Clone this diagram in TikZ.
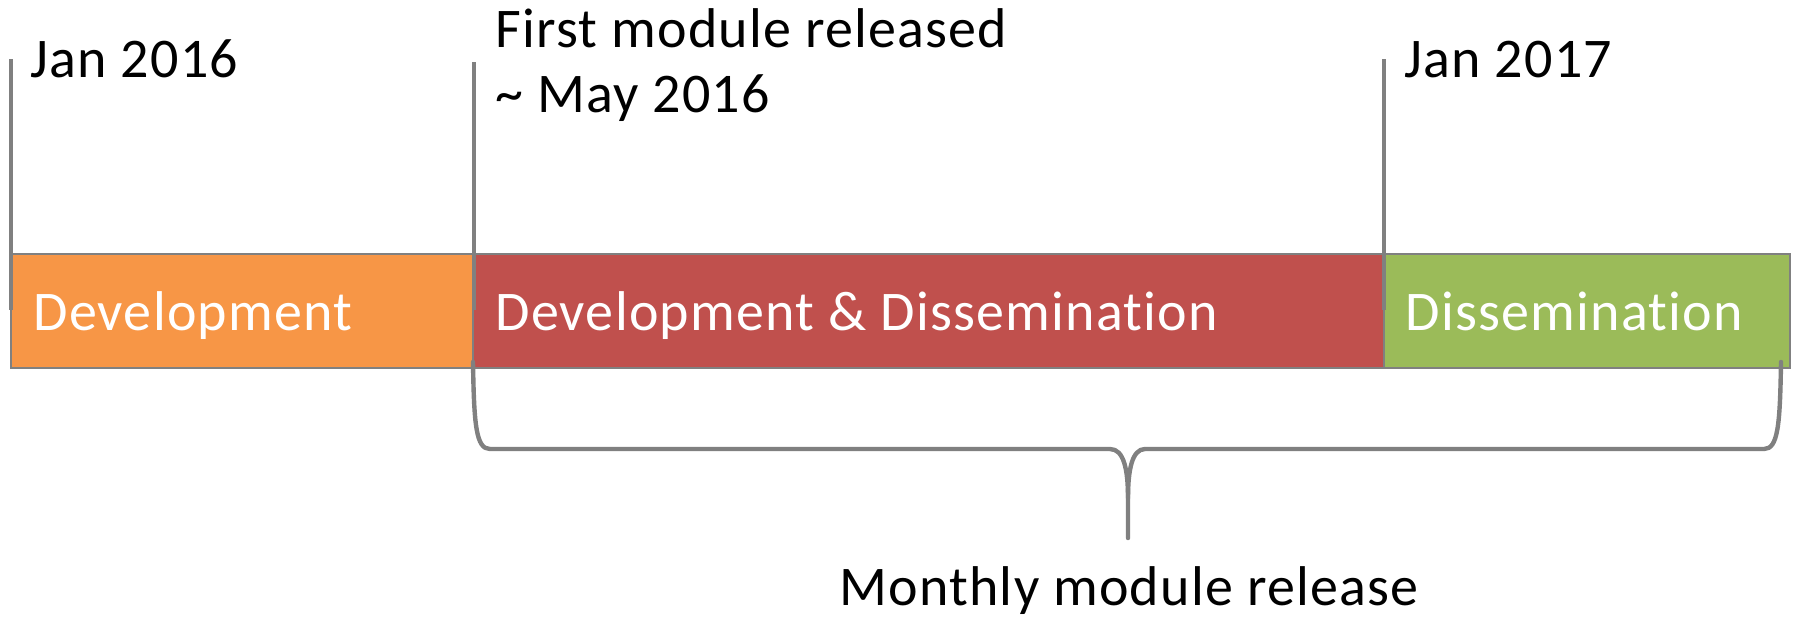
\documentclass[tikz,border=0pt]{standalone}
\usepackage{fontspec}
\setmainfont{Carlito}[Ligatures=NoCommon, LetterSpace=2.2]
\usepackage{tikz}
\usetikzlibrary{positioning}
\definecolor{devorange}{HTML}{F79646}
\definecolor{bothred}{HTML}{C0504D}
\definecolor{dissgreen}{HTML}{9BBB59}
\definecolor{linegray}{HTML}{808080}
\tikzset{phase/.style={draw=linegray, line width=1pt}}
\tikzset{markline/.style={draw=linegray, line width=2.2pt}}
\tikzset{bracepath/.style={draw=linegray, line width=2.2pt, line cap=round, line join=round}}
\tikzset{lbl/.style={inner sep=0pt, anchor=base west, font=\fontsize{28}{32.5}\selectfont}}
\tikzset{barlbl/.style={lbl, text=white}}

\begin{document}
\begin{tikzpicture}[x=0.5pt, y=-0.5pt]
            \useasboundingbox (0, 0) rectangle (1793, 618);
            % phases
            \draw[phase, fill=devorange] (11, 254) coordinate (devNW) rectangle (473, 368) coordinate (devSE);
            \draw[phase, fill=bothred] (473, 254) coordinate (bothNW) rectangle (1384, 368) coordinate (bothSE);
            \draw[phase, fill=dissgreen] (1384, 254) coordinate (dissNW) rectangle (1790, 368) coordinate (dissSE);
            % milestones
            \draw[markline] (11, 59) coordinate (jan16top) -- (11, 310) coordinate (jan16bot);
            \draw[markline] (474, 62) coordinate (firsttop) -- (474, 310) coordinate (firstbot);
            \draw[markline] (1384, 59) coordinate (jan17top) -- (1384, 310) coordinate (jan17bot);
            \node[lbl] (jan16) at (30, 77) {Jan 2016};
            \node[lbl] (first) at (495, 47) {First module released};
            \node[lbl] (may16) at (495, 112) {\textasciitilde{} May 2016};
            \node[lbl] (jan17) at (1404, 77) {Jan 2017};
            \node[barlbl] (dev) at (33, 330) {Development};
            \node[barlbl] (both) at (495, 330) {Development \& Dissemination};
            \node[barlbl] (diss) at (1405, 330) {Dissemination};
            % brace
            \coordinate (braceL) at (473, 362);
            \coordinate (braceR) at (1781, 362);
            \coordinate (braceTip) at (1128, 538);
            \draw[bracepath] (braceL) .. controls (474, 425) and (476, 449) .. (490, 449) -- (1110, 449)
                .. controls (1124, 449) and (1128, 470) .. (1128, 498) -- (braceTip);
            \draw[bracepath] (braceR) .. controls (1780, 425) and (1778, 449) .. (1764, 449) -- (1145, 449)
                .. controls (1132, 449) and (1128, 470) .. (1128, 498);
            \node[lbl, anchor=base] (monthly) at (1129, 605) {Monthly module release};
        \end{tikzpicture}
\end{document}
